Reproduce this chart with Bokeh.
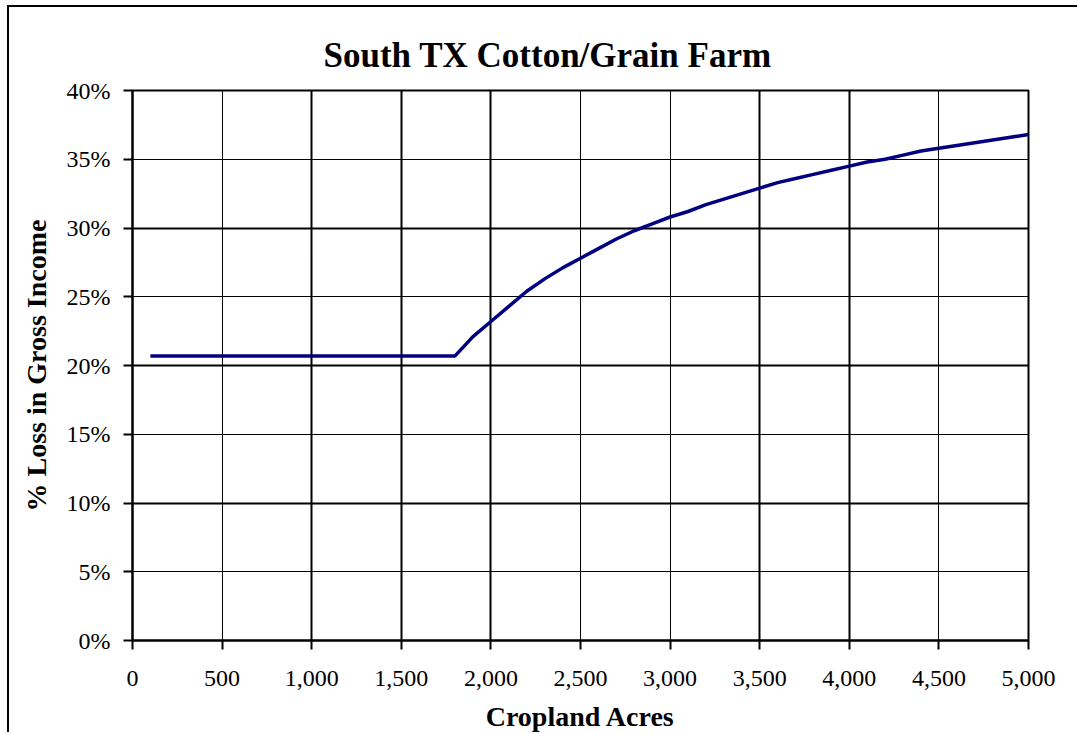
from bokeh.plotting import figure
from bokeh.models import Range1d, FixedTicker, NumeralTickFormatter, PrintfTickFormatter, Grid, Title
from bokeh.embed import file_html
from bokeh.resources import INLINE

# Data: cropland acres vs % loss in gross income
acres = [100, 200, 300, 400, 500, 600, 700, 800, 900, 1000, 1100, 1200, 1300, 1400, 1500,
         1600, 1700, 1800, 1900, 2000, 2100, 2200, 2300, 2400, 2500, 2600, 2700, 2800,
         2900, 3000, 3100, 3200, 3300, 3400, 3500, 3600, 3700, 3800, 3900, 4000, 4100,
         4200, 4300, 4400, 4500, 4600, 4700, 4800, 4900, 5000]
loss_pct = [20.7, 20.7, 20.7, 20.7, 20.7, 20.7, 20.7, 20.7, 20.7, 20.7, 20.7, 20.7, 20.7,
            20.7, 20.7, 20.7, 20.7, 20.7, 22.1, 23.2, 24.3, 25.4, 26.3, 27.1, 27.8, 28.5,
            29.2, 29.8, 30.3, 30.8, 31.2, 31.7, 32.1, 32.5, 32.9, 33.3, 33.6, 33.9, 34.2,
            34.5, 34.8, 35.0, 35.3, 35.6, 35.8, 36.0, 36.2, 36.4, 36.6, 36.8]

x_ticks = [0, 500, 1000, 1500, 2000, 2500, 3000, 3500, 4000, 4500, 5000]
y_ticks = [0, 5, 10, 15, 20, 25, 30, 35, 40]

title_text = "South TX Cotton/Grain Farm"
x_label = "Cropland Acres"
y_label = "% Loss in Gross Income"

FONT = "Liberation Serif"

p = figure(width=1070, height=727, output_backend="svg", toolbar_location=None,
           x_range=Range1d(0, 5000), y_range=Range1d(0, 40),
           min_border_left=123, min_border_right=51, min_border_top=83, min_border_bottom=93)
p.styles = {"margin-left": "7px", "margin-top": "5px",
            "border-left": "2px solid black", "border-top": "2px solid black"}

p.background_fill_color = "white"
p.border_fill_color = "white"
p.outline_line_color = "black"
p.outline_line_width = 2

# grids
p.xgrid.visible = False
p.ygrid.visible = False
p.add_layout(Grid(dimension=1, ticker=FixedTicker(ticks=[5, 15, 25, 35]),
                  grid_line_color="black", grid_line_width=1))
p.add_layout(Grid(dimension=1, ticker=FixedTicker(ticks=[10, 20, 30]),
                  grid_line_color="black", grid_line_width=2))
p.add_layout(Grid(dimension=0, ticker=FixedTicker(ticks=[500, 2500, 3000, 4500]),
                  grid_line_color="black", grid_line_width=1))
p.add_layout(Grid(dimension=0, ticker=FixedTicker(ticks=[1000, 1500, 2000, 3500, 4000]),
                  grid_line_color="black", grid_line_width=2))

p.line(acres, loss_pct, line_color="#000080", line_width=3.5)

# axes
p.xaxis.ticker = FixedTicker(ticks=x_ticks)
p.yaxis.ticker = FixedTicker(ticks=y_ticks)
p.xaxis.formatter = NumeralTickFormatter(format="0,0")
p.yaxis.formatter = PrintfTickFormatter(format="%d%%")
for ax in (p.xaxis[0], p.yaxis[0]):
    ax.axis_line_color = "black"
    ax.axis_line_width = 2
    ax.major_tick_line_color = "black"
    ax.major_tick_line_width = 2
    ax.major_tick_in = 0
    ax.major_tick_out = 9
    ax.minor_tick_line_color = None
    ax.major_label_text_font = FONT
    ax.major_label_text_font_size = "24px"
    ax.major_label_text_color = "black"
    ax.axis_label_text_font = FONT
    ax.axis_label_text_font_size = "28px"
    ax.axis_label_text_font_style = "bold"
    ax.axis_label_text_color = "black"

p.xaxis.axis_label = x_label
p.yaxis.axis_label = y_label
p.xaxis.major_label_standoff = 21
p.yaxis.major_label_standoff = 13
p.xaxis.axis_label_standoff = 12
p.yaxis.axis_label_standoff = 12

p.title = Title(text=title_text, align="left", offset=191, text_font=FONT,
                text_font_size="35px", text_font_style="bold", text_color="black",
                standoff=31)

open("out.html", "w").write(file_html(p, INLINE))
